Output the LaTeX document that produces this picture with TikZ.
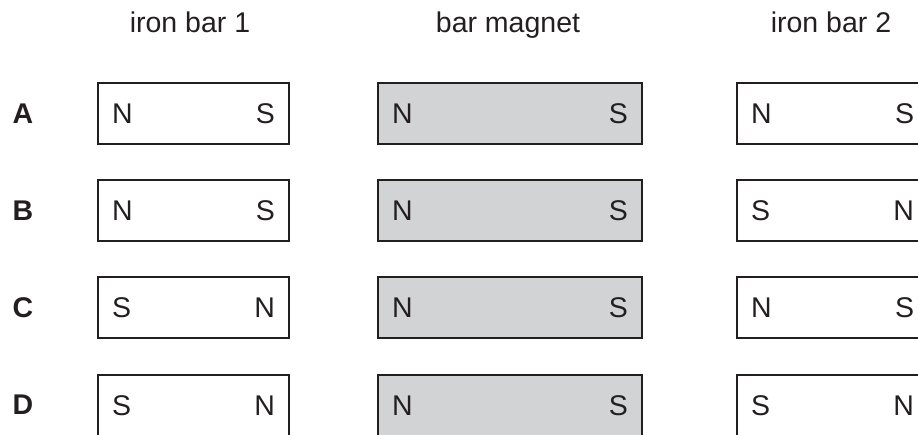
\documentclass[tikz,border=0pt]{standalone}
\usepackage{fontspec}
\setmainfont{Liberation Sans}
\usepackage{xcolor}
\usepackage{tikz}
\usetikzlibrary{positioning}
\definecolor{magnetgrey}{RGB}{209,211,212}
\definecolor{inkblack}{RGB}{35,31,32}

\begin{document}
\begin{tikzpicture}[x=1pt,y=-1pt]
            \tikzset{ironbar/.style = {draw=inkblack, line width=1.8pt, minimum width=191pt, minimum height=61pt,
                                       text width=163pt, align=left, inner sep=0pt, font=\fontsize{28.5}{31}\selectfont, text=inkblack}}
            \tikzset{magnetbar/.style = {ironbar, fill=magnetgrey, minimum width=264pt, text width=236pt}}
            \tikzset{rowlabel/.style = {font=\fontsize{28.5}{31}\selectfont\bfseries, text=inkblack}}
            \tikzset{headlabel/.style = {anchor=base, font=\fontsize{28.5}{31}\selectfont, text=inkblack}}

            \useasboundingbox (0,0) rectangle (918,434);
            \clip (0,0) rectangle (918,434);

            % column headings
            \node[headlabel] (head1) at (190,32) {iron bar 1};
            \node[headlabel] (headm) at (508,32) {bar magnet};
            \node[headlabel] (head2) at (831,32) {iron bar 2};

            % row A
            \node[rowlabel] (rowA) at (23,113.5) {A};
            \node[ironbar]   (bar1A) at (193.5,113.5) {N\hfill S};
            \node[magnetbar] (magA)  at (510,113.5)   {N\hfill S};
            \node[ironbar]   (bar2A) at (832.5,113.5) {N\hfill S};

            % row B
            \node[rowlabel] (rowB) at (23,210.5) {B};
            \node[ironbar]   (bar1B) at (193.5,210.5) {N\hfill S};
            \node[magnetbar] (magB)  at (510,210.5)   {N\hfill S};
            \node[ironbar]   (bar2B) at (832.5,210.5) {S\hfill N};

            % row C
            \node[rowlabel] (rowC) at (23,307.5) {C};
            \node[ironbar]   (bar1C) at (193.5,307.5) {S\hfill N};
            \node[magnetbar] (magC)  at (510,307.5)   {N\hfill S};
            \node[ironbar]   (bar2C) at (832.5,307.5) {N\hfill S};

            % row D (cut off at the bottom)
            \node[rowlabel] (rowD) at (23,405) {D};
            \node[ironbar]   (bar1D) at (193.5,405.5) {S\hfill N};
            \node[magnetbar] (magD)  at (510,405.5)   {N\hfill S};
            \node[ironbar]   (bar2D) at (832.5,405.5) {S\hfill N};

        \end{tikzpicture}
\end{document}
